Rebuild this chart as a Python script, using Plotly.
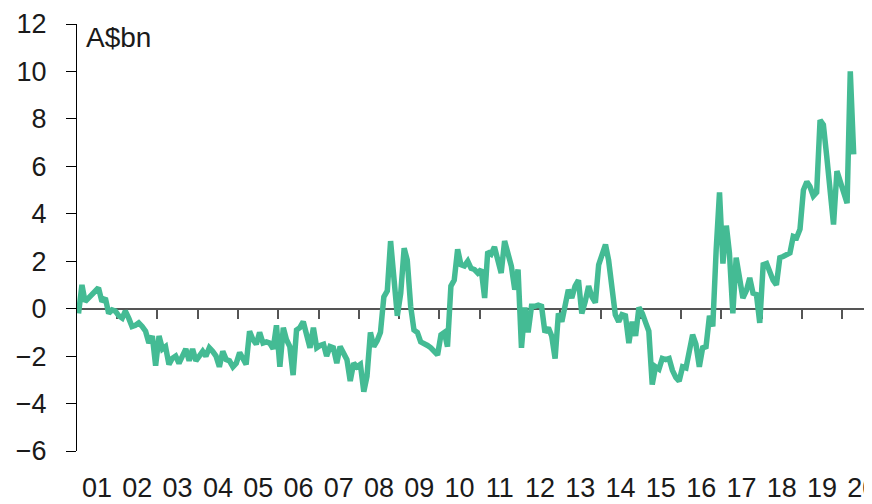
import pandas as pd
import plotly.graph_objects as go

# Monthly values, A$bn, Jan 2001 - Apr 2020
v2001 = [-0.2, 1.0, 0.3, 0.45, 0.55, 0.7, 0.88, 0.3, 0.45, -0.2, -0.05, -0.1]
v2002 = [-0.3, -0.4, -0.1, -0.4, -0.75, -0.7, -0.6, -0.75, -0.95, -1.45, -1.15, -2.4]
v2003 = [-1.15, -1.7, -1.6, -2.35, -2.1, -2.0, -2.3, -2.0, -1.7, -2.2, -1.7, -2.2]
v2004 = [-2.0, -1.8, -2.0, -1.65, -1.8, -2.0, -2.45, -1.8, -2.15, -2.2, -2.45, -2.3]
v2005 = [-1.85, -2.1, -2.35, -0.95, -1.3, -1.5, -1.0, -1.45, -1.4, -1.45, -1.7, -0.7]
v2006 = [-2.45, -0.8, -1.3, -1.6, -2.8, -0.9, -0.8, -0.55, -1.2, -1.65, -0.8, -1.65]
v2007 = [-1.55, -1.5, -2.0, -1.6, -1.65, -2.3, -1.6, -1.9, -2.15, -3.05, -2.3, -2.45]
v2008 = [-2.35, -3.5, -2.85, -1.0, -1.6, -1.35, -1.0, 0.5, 0.75, 2.85, 0.95, -0.3]
v2009 = [0.65, 2.55, 2.05, 0.1, -0.9, -1.0, -1.4, -1.45, -1.55, -1.65, -1.85, -1.95]
v2010 = [-1.1, -1.0, -1.6, 0.95, 1.2, 2.5, 1.85, 1.8, 2.0, 1.7, 1.65, 1.5]
v2011 = [1.65, 0.45, 2.4, 2.3, 2.6, 2.05, 1.5, 2.85, 2.3, 1.8, 0.8, 1.65]
v2012 = [-1.65, 0.05, -1.0, 0.1, 0.1, 0.15, 0.1, -1.0, -0.8, -1.15, -2.1, -0.2]
v2013 = [-0.55, 0.3, 0.8, 0.45, 0.95, 1.2, -0.2, 0.3, 0.95, 0.5, 0.25, 1.85]
v2014 = [2.3, 2.7, 2.05, 0.95, -0.25, -0.55, -0.25, -0.3, -1.45, -0.55, -1.15, 0.05]
v2015 = [-0.2, -0.6, -0.95, -3.2, -2.45, -2.55, -2.1, -2.15, -2.1, -2.6, -2.9, -3.05]
v2016 = [-2.45, -2.5, -1.85, -1.1, -1.5, -2.45, -1.65, -1.6, -0.3, -0.75, 2.5, 4.9]
v2017 = [1.9, 3.5, 2.35, -0.2, 2.15, 1.1, 0.45, 0.75, 1.3, 0.65, 0.6, -0.6]
v2018 = [1.85, 1.9, 1.55, 1.2, 1.0, 2.15, 2.2, 2.3, 2.35, 3.05, 3.0, 3.35]
v2019 = [5.0, 5.35, 5.15, 4.75, 4.9, 7.95, 7.75, 6.4, 5.0, 3.55, 5.8, 5.35]
v2020 = [4.9, 4.45, 10.0, 6.5]

values = (v2001 + v2002 + v2003 + v2004 + v2005 + v2006 + v2007 + v2008 + v2009 + v2010
          + v2011 + v2012 + v2013 + v2014 + v2015 + v2016 + v2017 + v2018 + v2019 + v2020)

dates = pd.date_range(start="2001-01-01", periods=len(values), freq="MS") + pd.Timedelta(days=14)

years = list(range(2001, 2021))
year_labels = ["01", "02", "03", "04", "05", "06", "07", "08", "09", "10",
               "11", "12", "13", "14", "15", "16", "17", "18", "19", "20"]
y_ticks = [-6, -4, -2, 0, 2, 4, 6, 8, 10, 12]
unit_label = "A$bn"

FONT = "Liberation Sans"
TXT = "#1a1a1a"
x_range = ["2001-01-01", "2020-09-28"]

fig = go.Figure()
fig.add_trace(go.Scatter(
    x=dates, y=values, mode="lines",
    line=dict(color="#44BB94", width=5.5, shape="linear"),
    hoverinfo="skip", showlegend=False,
))

# page body has an 8px margin, so the figure is 8px smaller and offsets shifted
fig.update_layout(
    width=864, height=496,
    margin=dict(l=69, r=0, t=16, b=53, autoexpand=False),
    paper_bgcolor="white", plot_bgcolor="white",
    font=dict(family=FONT, color=TXT, size=27),
    xaxis=dict(
        type="date", range=x_range,
        tickvals=[f"{y}-07-02" for y in years], ticktext=year_labels,
        ticks="", showline=False, showgrid=False, zeroline=False,
        tickfont=dict(size=27, color=TXT, family=FONT),
        ticklabelstandoff=18, ticklabeloverflow="allow",
    ),
    xaxis2=dict(
        type="date", range=x_range, overlaying="x", matches="x",
        anchor="free", position=1/3, side="bottom",
        showline=True, linecolor="#555555", linewidth=1.5,
        ticks="outside", ticklen=10, tickwidth=1.5, tickcolor="#555555",
        tickvals=[f"{y}-01-01" for y in years[1:]],
        showticklabels=False, showgrid=False, zeroline=False,
        layer="below traces",
    ),
    yaxis=dict(
        range=[-6, 12], tickvals=y_ticks,
        showline=True, linecolor="black", linewidth=1.2,
        ticks="outside", ticklen=10, tickwidth=1.2, tickcolor="black",
        showgrid=False, zeroline=False,
        tickfont=dict(size=27, color=TXT, family=FONT),
        ticklabelstandoff=14,
    ),
    annotations=[dict(
        text=unit_label, xref="paper", yref="y", x=0.009, y=11.45,
        xanchor="left", yanchor="middle", showarrow=False,
        font=dict(size=28, color=TXT, family=FONT),
    )],
)

# invisible trace to activate xaxis2
fig.add_trace(go.Scatter(x=[dates[0]], y=[None], xaxis="x2", yaxis="y",
                         mode="lines", showlegend=False, hoverinfo="skip"))

fig.write_html("out.html")
